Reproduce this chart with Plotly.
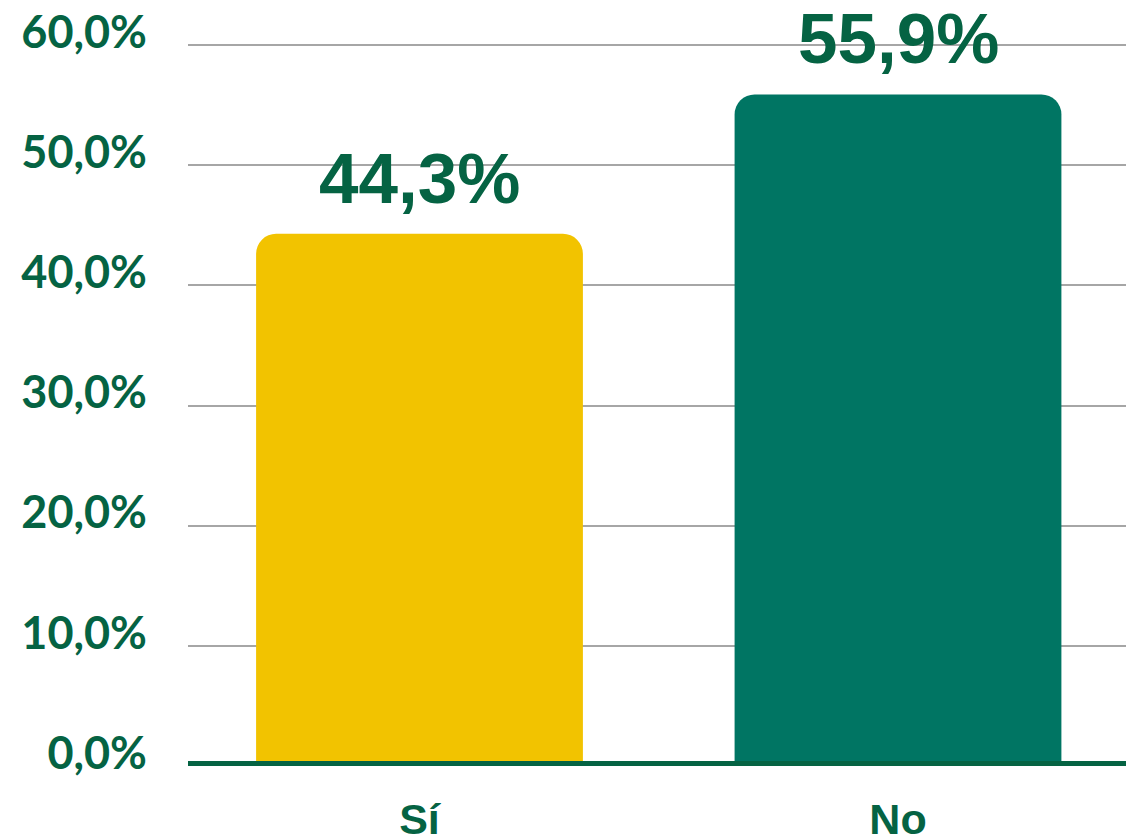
import plotly.graph_objects as go

categories = ["Sí", "No"]
values = [44.3, 55.9]
bar_colors = ["#F2C300", "#007563"]
y_ticks = [0, 10, 20, 30, 40, 50, 60]
y_tick_labels = ["0,0%", "10,0%", "20,0%", "30,0%", "40,0%", "50,0%", "60,0%"]

GREEN = "#056343"

fig = go.Figure()
fig.add_trace(go.Bar(
    x=categories, y=values,
    marker=dict(color=bar_colors, line=dict(width=0)),
    width=0.683,
    hoverinfo="skip",
))

for c, v in zip(categories, values):
    fig.add_annotation(
        x=c, y=v, text=f"{v:.1f}%".replace(".", ","),
        showarrow=False, yanchor="bottom", xanchor="center", yshift=14,
        font=dict(family="Liberation Sans", size=71, color=GREEN, weight="bold"),
    )

fig.add_shape(type="line", xref="paper", x0=0, x1=1, yref="y", y0=0, y1=0,
              line=dict(color=GREEN, width=10), layer="above")

fig.update_layout(
    width=1126, height=840,
    margin=dict(l=188, r=0, t=44, b=74),
    paper_bgcolor="white", plot_bgcolor="white",
    showlegend=False,
    barcornerradius=20,
    xaxis=dict(
        type="category", range=[-0.4838, 1.4765], automargin=False,
        showgrid=False, zeroline=False, showline=False,
        ticks="", ticklabelstandoff=24,
        tickfont=dict(family="Liberation Sans", size=43, color=GREEN, weight="bold"),
    ),
    yaxis=dict(
        range=[0, 60.1], tickvals=y_ticks, ticktext=y_tick_labels, automargin=False,
        showgrid=True, gridcolor="#A6A6A6", gridwidth=2,
        zeroline=False, showline=False, ticks="",
        ticklabelstandoff=40, ticklabelshift=-13,
        tickfont=dict(family="Lato", size=45, color=GREEN, weight="bold"),
    ),
)

fig.write_html(
    "out.html",
    config={"displayModeBar": False},
    post_script="document.body.style.margin='0';document.body.style.overflow='hidden';",
)
